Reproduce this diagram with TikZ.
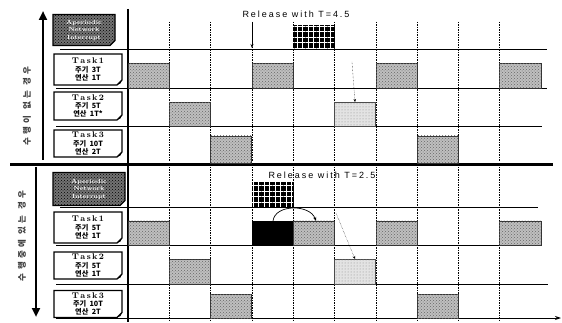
\documentclass[tikz,border=0pt]{standalone}
\usepackage{fontspec}
\newfontfamily\cjk{Noto Sans CJK KR}
\newfontfamily\cjkwide[LetterSpace=40]{Noto Sans CJK KR}
\newfontfamily\relfont[LetterSpace=22]{Liberation Sans}
\usetikzlibrary{patterns,patterns.meta,arrows.meta}
\tikzset{
 tasktext/.style={inner sep=1pt, outer sep=0pt, minimum width=68pt, align=center, font=\fontsize{7.2}{8.2}\selectfont},
 hdrtext/.style={inner sep=1pt, outer sep=0pt, align=center, text=white, font=\bfseries\fontsize{6}{7.5}\selectfont},
 boxline/.style={line width=1.2pt, line join=miter},
 bar/.style={draw=black!80, line width=0.6pt, fill=gray!50, postaction={pattern=crosshatch dots, pattern color=black!60}, minimum width=41pt, inner sep=0pt, outer sep=0pt, anchor=south west},
 lightbar/.style={draw=black!70, line width=0.6pt, fill=gray!22, postaction={pattern=dots, pattern color=black!45}, minimum width=41pt, inner sep=0pt, outer sep=0pt, anchor=south west},
 blackbar/.style={draw=black, line width=0.6pt, fill=black, minimum width=41pt, inner sep=0pt, outer sep=0pt, anchor=south west},
 gridbar/.style={draw=black, line width=0.6pt, fill=black, postaction={pattern={Hatch[distance=5.5pt,line width=0.5pt]}, pattern color=white}, minimum width=41pt, inner sep=0pt, outer sep=0pt, anchor=south west},
 rowline/.style={line width=0.9pt},
 gridline/.style={line width=0.6pt, dash pattern=on 1.5pt off 1pt},
 bigarrow/.style={line width=2.6pt, -{Triangle[width=8pt,length=9pt]}},
}
\newcommand\tbox[5]{%
 \node[tasktext, minimum height=#4] (#1) at (#2,#3) {#5};
 \draw[boxline] (#1.north west) -- (#1.north east) -- ([yshift=5pt]#1.south east) -- ([xshift=-5pt]#1.south east) -- (#1.south west) -- cycle;
 \fill ([yshift=5pt]#1.south east) -- ([xshift=-5pt]#1.south east) -- ([xshift=-1.5pt,yshift=1.5pt]#1.south east) -- cycle;
}
\newcommand\tsk[1]{{\fontsize{8.3}{8.6}\selectfont\textbf{T\,a\,s\,k\,#1}}}
\newcommand\kl[2]{{\cjk\bfseries #1\ \ #2}}
\begin{document}
\begin{tikzpicture}[x=1pt,y=-1pt]
\useasboundingbox (0,0) rectangle (562,323);
\fill[white] (0,0) rectangle (562,323);

% header boxes (dark stippled)
\foreach \cx/\cy/\w/\h in {84/30/62/31, 89/189/72/33}{
  \path[fill=black!55, postaction={pattern=crosshatch dots, pattern color=black}]
    (\cx-\w/2,\cy-\h/2) -- (\cx+\w/2,\cy-\h/2) -- (\cx+\w/2,\cy+\h/2-5) -- (\cx+\w/2-5,\cy+\h/2) -- (\cx-\w/2,\cy+\h/2) -- cycle;
  \draw[boxline] (\cx-\w/2,\cy-\h/2) -- (\cx+\w/2,\cy-\h/2) -- (\cx+\w/2,\cy+\h/2-5) -- (\cx+\w/2-5,\cy+\h/2) -- (\cx-\w/2,\cy+\h/2) -- cycle;
}
\node[hdrtext] (hat) at (84,30) {Aperiodic\\Network\\Interrupt};
\node[hdrtext] (hbt) at (89,189) {Aperiodic\\Network\\Interrupt};

% task boxes
\tbox{t1a}{88}{69.5}{31pt}{\tsk{1}\\\kl{주기}{3T}\\\kl{연산}{1T}}
\tbox{t2a}{88}{106}{28pt}{\tsk{2}\\\kl{주기}{5T}\\\kl{연산}{1T*}}
\tbox{t3a}{88}{143.5}{27pt}{\tsk{3}\\\kl{주기}{10T}\\\kl{연산}{2T}}
\tbox{t1b}{88}{227.5}{31pt}{\tsk{1}\\\kl{주기}{5T}\\\kl{연산}{1T}}
\tbox{t2b}{88}{265.5}{27pt}{\tsk{2}\\\kl{주기}{5T}\\\kl{연산}{1T}}
\tbox{t3b}{88}{304}{27pt}{\tsk{3}\\\kl{주기}{10T}\\\kl{연산}{2T}}

% side arrows and texts
\coordinate (ua1) at (43,160); \coordinate (ua2) at (43,11);
\draw[bigarrow] (ua1) -- (ua2);
\coordinate (da1) at (36,167); \coordinate (da2) at (36,317);
\draw[bigarrow] (da1) -- (da2);
\node[rotate=90, font=\cjkwide\bfseries\fontsize{8.5}{9}\selectfont, text=black!75] (sa) at (27,106) {수행이 없는 경우};
\node[rotate=90, font=\cjkwide\bfseries\fontsize{8.5}{9}\selectfont, text=black!75] (sb) at (22,236) {수행중에 있는 경우};

% grid dashed lines
\foreach \x in {169,210,252,293,334,376,417,458,499}{
  \draw[gridline] (\x,22) -- (\x,162);
  \draw[gridline] (\x,167) -- (\x,321);
}

% row lines
\draw[rowline] (60,49) -- (547,49);
\draw[rowline] (56,88) -- (547,88);
\draw[rowline] (56,126) -- (542,126);
\draw[line width=2.8pt] (10,164.5) -- (553,164.5);
\draw[rowline] (60,207) -- (538,207);
\draw[rowline] (56,245) -- (540,245);
\draw[rowline] (56,284) -- (548,284);
\coordinate (ax1) at (56,318); \coordinate (ax2) at (561,318);
\draw[rowline, -{Stealth[length=6pt,width=4pt]}] (ax1) -- (ax2);
\draw[line width=1.1pt] (128,9) -- (128,322);

% ---- top schedule
\node[gridbar, minimum height=24pt] (ga) at (293,49) {};
\node[bar, minimum height=25pt] (a11) at (128,88) {};
\node[bar, minimum height=25pt] (a12) at (252,88) {};
\node[bar, minimum height=25pt] (a13) at (376,88) {};
\node[bar, minimum height=25pt, minimum width=42pt] (a14) at (499,88) {};
\node[bar, minimum height=24pt] (a21) at (169,126) {};
\node[lightbar, minimum height=24pt] (a22) at (334,126) {};
\node[bar, minimum height=27pt] (a31) at (210,163) {};
\node[bar, minimum height=27pt] (a32) at (417,163) {};
\node[font=\relfont\fontsize{9}{10}\selectfont] (rla) at (296,14) {Release with T=4.5};
\coordinate (ra1) at (252,22); \coordinate (ra2) at (252,48);
\draw[line width=0.9pt, -{Stealth[length=4pt,width=3pt]}] (ra1) -- (ra2);
\coordinate (da) at (352,62);
\draw[densely dotted, -{Stealth[length=3pt,width=2.5pt]}] (da) -- (a22.north -| 355,0);

% ---- bottom schedule
\node[gridbar, minimum height=25pt] (gb) at (252,207) {};
\node[bar, minimum height=24pt] (b11) at (128,245) {};
\node[blackbar, minimum height=24pt] (b12) at (252,245) {};
\node[bar, minimum height=24pt] (b13) at (293,245) {};
\node[bar, minimum height=24pt] (b14) at (376,245) {};
\node[bar, minimum height=24pt, minimum width=42pt] (b15) at (499,245) {};
\node[bar, minimum height=25pt] (b21) at (169,284) {};
\node[lightbar, minimum height=25pt] (b22) at (334,284) {};
\node[bar, minimum height=24pt] (b31) at (210,318) {};
\node[bar, minimum height=24pt] (b32) at (417,318) {};
\node[font=\relfont\fontsize{9}{10}\selectfont] (rlb) at (322,175) {Release with T=2.5};
\draw[line width=0.7pt, -{Stealth[length=4pt,width=3pt]}] (b12.north -| 273,0) .. controls (275,204) and (310,204) .. (b13.north -| 316,0);
\coordinate (db) at (336,213);
\draw[densely dotted, -{Stealth[length=3pt,width=2.5pt]}] (db) -- (b22.north -| 355,0);
\end{tikzpicture}
\end{document}
